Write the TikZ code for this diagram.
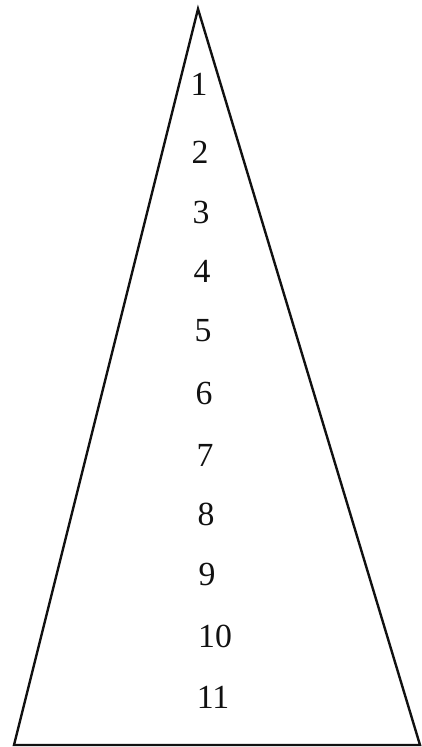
\documentclass[tikz,border=0pt]{standalone}
\usepackage{fontspec}
\setmainfont{Liberation Serif}
\usetikzlibrary{positioning}
\definecolor{ink}{HTML}{111111}
\tikzset{
  edge/.style={draw=ink, line width=1.7pt, line join=miter},
  num/.style={font=\fontsize{24}{28}\selectfont, text=ink, inner sep=0pt}
}
\begin{document}
\begin{tikzpicture}[x=0.025cm,y=-0.025cm]
  \useasboundingbox (0,0) rectangle (421,747);
  % triangle
  \coordinate (apex) at (198,9);
  \coordinate (bl) at (14,745);
  \coordinate (br) at (420,745);
  \draw[edge] (apex) -- (bl) -- (br) -- cycle;
  % levels
  \foreach \i/\x/\y in {1/199/84,2/200/152,3/201/212,4/202/271,5/203/331,6/204/393,
                        7/205/455,8/206/514,9/207/574,10/215/636,11/213/697}
    \node[num] (n\i) at (\x,\y) {\i};
\end{tikzpicture}
\end{document}
